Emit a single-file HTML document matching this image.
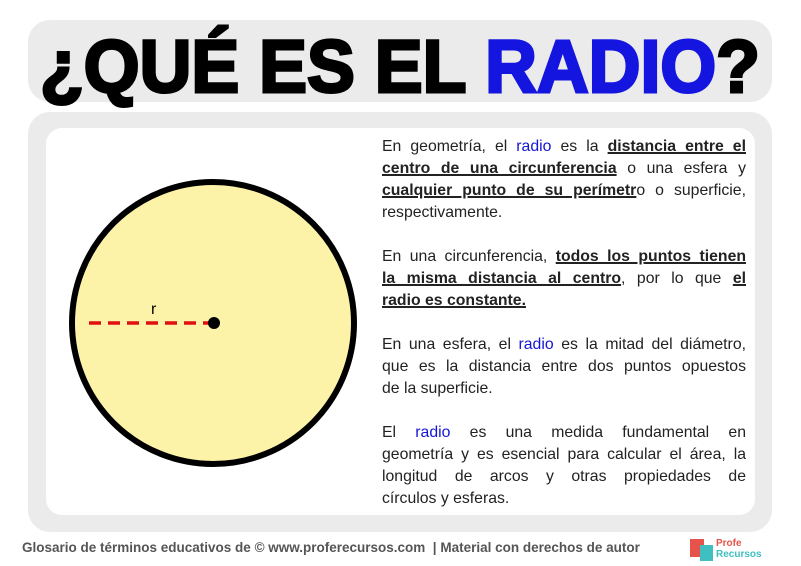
<!DOCTYPE html>
<html><head><meta charset="utf-8"><style>
body{margin:0;width:801px;height:566px;background:#fff;font-family:"Liberation Sans",sans-serif;position:relative;overflow:hidden}
.box{position:absolute;background:#ebebeb;border-radius:22px}
.p{position:absolute;left:382px;width:364px;font-size:15.8px;line-height:22px;color:#222}
.p div{text-align:justify;text-align-last:justify;white-space:nowrap}
.p div.l{text-align-last:left}
.b{color:#1515d6}
u{font-weight:bold;text-decoration-thickness:1.5px}
</style></head><body>
<div class="box" style="left:28px;top:20px;width:744px;height:82px"></div>
<svg style="position:absolute;left:0;top:0" width="801" height="110">
<text x="40" y="92" font-family="Liberation Sans" font-weight="900" font-size="74" textLength="720" lengthAdjust="spacingAndGlyphs" stroke="#000" stroke-width="3"><tspan>¿QUÉ ES EL </tspan><tspan fill="#1515e0" stroke="#1515e0">RADIO</tspan><tspan>?</tspan></text>
</svg>
<div class="box" style="left:28px;top:112px;width:744px;height:420px"></div>
<div style="position:absolute;left:46px;top:128px;width:709px;height:387px;background:#fff;border-radius:16px"></div>
<svg style="position:absolute;left:0;top:0" width="801" height="566">
<circle cx="213" cy="323" r="141" fill="#fdf3a8" stroke="#000" stroke-width="6"/>
<line x1="89" y1="323" x2="210" y2="323" stroke="#e01010" stroke-width="3.5" stroke-dasharray="12,7"/>
<circle cx="214" cy="323" r="6" fill="#000"/>
<text x="151" y="314" font-size="16" font-family="Liberation Sans">r</text>
</svg>
<div class="p" style="top:136px">
<div>En geometría, el <span class="b">radio</span> es la <u>distancia entre el</u></div>
<div><u>centro de una circunferencia</u> o una esfera y</div>
<div><u>cualquier punto de su perímetr</u>o o superficie,</div>
<div class="l">respectivamente.</div></div>
<div class="p" style="top:246px">
<div>En una circunferencia, <u>todos los puntos tienen</u></div>
<div><u>la misma distancia al centro</u>, por lo que <u>el</u></div>
<div class="l"><u>radio es constante.</u></div></div>
<div class="p" style="top:334px">
<div>En una esfera, el <span class="b">radio</span> es la mitad del diámetro,</div>
<div>que es la distancia entre dos puntos opuestos</div>
<div class="l">de la superficie.</div></div>
<div class="p" style="top:422px">
<div>El <span class="b">radio</span> es una medida fundamental en</div>
<div>geometría y es esencial para calcular el área, la</div>
<div>longitud de arcos y otras propiedades de</div>
<div class="l">círculos y esferas.</div></div>
<div style="position:absolute;left:22px;top:540px;font-size:13.5px;font-weight:bold;color:#555;white-space:nowrap">Glosario de términos educativos de © www.proferecursos.com &nbsp;|&nbsp;Material con derechos de autor</div>
<div style="position:absolute;left:690px;top:539px;width:14px;height:18px;background:#e5534b"></div>
<div style="position:absolute;left:700px;top:545px;width:13px;height:16px;background:#3fbfc0"></div>
<div style="position:absolute;left:716px;top:538px;font-size:10px;line-height:11px;font-weight:bold"><span style="color:#e5534b">Profe</span><br><span style="color:#3fbfc0">Recursos</span></div>
</body></html>
